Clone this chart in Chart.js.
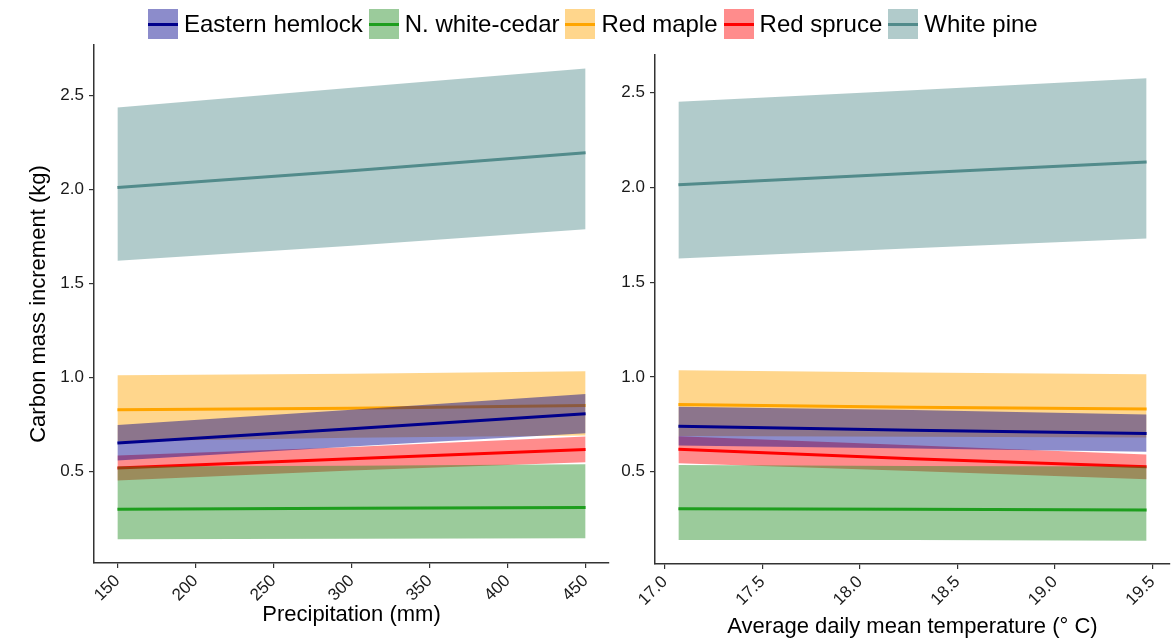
<!DOCTYPE html>
<html>
<head>
<meta charset="utf-8">
<script src="https://cdn.jsdelivr.net/npm/chart.js@4.4.0/dist/chart.umd.min.js"></script>
<style>
html,body{margin:0;padding:0;background:#fff;width:1173px;height:640px;overflow:hidden;font-family:"Liberation Sans",Arial,sans-serif;}
#legend{position:absolute;top:9px;left:148px;height:30px;display:flex;align-items:center;white-space:nowrap;}
.item{display:flex;align-items:center;margin-right:6px;}
.sw{position:relative;width:30px;height:30px;margin-right:6px;}
.sw .ln{position:absolute;left:0;right:0;top:13.5px;height:3px;}
.lab{font-size:24px;color:#000;line-height:30px;}
#w1{position:absolute;left:0;top:0;width:620px;height:640px;}
#w2{position:absolute;left:595px;top:0;width:578px;height:640px;}
</style>
</head>
<body>
<div id="w1"><canvas id="c1" width="620" height="640"></canvas></div>
<div id="w2"><canvas id="c2" width="578" height="640"></canvas></div>
<div id="legend"></div>
<script>
// ---- categories / ticks ----
const species = ['Eastern hemlock', 'N. white-cedar', 'Red maple', 'Red spruce', 'White pine'];
const precipX = [150, 300, 450];
const tempX = [17.07, 18.27, 19.47];
const yTicks = [0.5, 1.0, 1.5, 2.0, 2.5];
const precipTicks = [150, 200, 250, 300, 350, 400, 450];
const tempTicks = [17.0, 17.5, 18.0, 18.5, 19.0, 19.5];

// ---- precipitation panel (fit, lower, upper) ----
const hemlockPrecipFit = [0.652, 0.727, 0.807];
const hemlockPrecipLow = [0.558, 0.633, 0.704];
const hemlockPrecipHigh = [0.747, 0.828, 0.913];
const cedarPrecipFit = [0.299, 0.305, 0.309];
const cedarPrecipLow = [0.140, 0.142, 0.145];
const cedarPrecipHigh = [0.527, 0.530, 0.539];
const maplePrecipFit = [0.829, 0.837, 0.851];
const maplePrecipLow = [0.661, 0.679, 0.691];
const maplePrecipHigh = [1.012, 1.020, 1.033];
const sprucePrecipFit = [0.518, 0.568, 0.617];
const sprucePrecipLow = [0.452, 0.505, 0.549];
const sprucePrecipHigh = [0.585, 0.630, 0.686];
const pinePrecipFit = [2.011, 2.101, 2.197];
const pinePrecipLow = [1.622, 1.702, 1.789];
const pinePrecipHigh = [2.438, 2.543, 2.645];

// ---- temperature panel (fit, lower, upper) ----
const hemlockTempFit = [0.740, 0.719, 0.702];
const hemlockTempLow = [0.638, 0.622, 0.605];
const hemlockTempHigh = [0.842, 0.825, 0.802];
const cedarTempFit = [0.304, 0.302, 0.298];
const cedarTempLow = [0.140, 0.140, 0.135];
const cedarTempHigh = [0.535, 0.530, 0.527];
const mapleTempFit = [0.854, 0.840, 0.830];
const mapleTempLow = [0.688, 0.684, 0.680];
const mapleTempHigh = [1.035, 1.023, 1.014];
const spruceTempFit = [0.618, 0.568, 0.526];
const spruceTempLow = [0.544, 0.503, 0.460];
const spruceTempHigh = [0.687, 0.640, 0.591];
const pineTempFit = [2.014, 2.074, 2.134];
const pineTempLow = [1.624, 1.678, 1.730];
const pineTempHigh = [2.451, 2.512, 2.576];

// ---- styles ----
const lineColors = ['#00008B', '#1E9E1E', '#FFA500', '#FF0000', '#528B8B'];
const fillColors = ['rgba(0,0,139,0.45)', 'rgba(34,139,34,0.45)', 'rgba(255,165,0,0.45)', 'rgba(255,0,0,0.45)', 'rgba(82,139,139,0.45)'];
const FONT = '"Liberation Sans", Arial, sans-serif';

const precipSeries = [
  [hemlockPrecipFit, hemlockPrecipLow, hemlockPrecipHigh],
  [cedarPrecipFit, cedarPrecipLow, cedarPrecipHigh],
  [maplePrecipFit, maplePrecipLow, maplePrecipHigh],
  [sprucePrecipFit, sprucePrecipLow, sprucePrecipHigh],
  [pinePrecipFit, pinePrecipLow, pinePrecipHigh]
];
const tempSeries = [
  [hemlockTempFit, hemlockTempLow, hemlockTempHigh],
  [cedarTempFit, cedarTempLow, cedarTempHigh],
  [mapleTempFit, mapleTempLow, mapleTempHigh],
  [spruceTempFit, spruceTempLow, spruceTempHigh],
  [pineTempFit, pineTempLow, pineTempHigh]
];

function makeDatasets(xs, series) {
  const ds = [];
  series.forEach((s, g) => {
    const pts = arr => xs.map((x, i) => ({x: x, y: arr[i]}));
    const base = g * 10;
    ds.push({label: species[g] + ' upper', data: pts(s[2]), borderWidth: 0, borderColor: 'transparent',
      pointRadius: 0, fill: '+1', backgroundColor: fillColors[g], order: base + 2});
    ds.push({label: species[g] + ' lower', data: pts(s[1]), borderWidth: 0, borderColor: 'transparent',
      pointRadius: 0, fill: false, order: base + 1});
    ds.push({label: species[g], data: pts(s[0]), borderWidth: 3, borderColor: lineColors[g],
      pointRadius: 0, fill: false, order: base, borderCapStyle: 'butt'});
  });
  return ds;
}

function axisCommon() {
  return {
    grid: {display: true, drawOnChartArea: false, drawTicks: true, tickLength: 5, color: '#333', lineWidth: 1.2},
    border: {display: true, color: '#333', width: 1.5}
  };
}

function makeChart(id, xs, series, opt) {
  const xc = axisCommon(), yc = axisCommon();
  return new Chart(document.getElementById(id), {
    type: 'line',
    data: {datasets: makeDatasets(xs, series)},
    options: {
      responsive: false,
      animation: false,
      events: [],
      layout: {padding: {left: 0, top: opt.top, right: opt.right, bottom: 0}},
      plugins: {legend: {display: false}, tooltip: {enabled: false}, filler: {drawTime: 'beforeDatasetDraw'}},
      scales: {
        x: Object.assign(xc, {
          type: 'linear', min: opt.xmin, max: opt.xmax,
          afterBuildTicks: s => { s.ticks = opt.xticks.map(v => ({value: v})); },
          ticks: {autoSkip: false, minRotation: 45, maxRotation: 45, padding: 3, color: '#1a1a1a',
            font: {family: FONT, size: 17}, callback: opt.xfmt},
          title: {display: true, text: opt.xtitle, color: '#000', font: {family: FONT, size: 22},
            padding: {top: 0, bottom: opt.xtitlePad}},
          afterFit: s => { s.height = opt.xh; s.paddingLeft = 0; s.paddingRight = 0; }
        }),
        y: Object.assign(yc, {
          type: 'linear', min: opt.ymin, max: opt.ymax,
          afterBuildTicks: s => { s.ticks = yTicks.map(v => ({value: v})); },
          ticks: {autoSkip: false, padding: 5, color: '#1a1a1a', font: {family: FONT, size: 17},
            callback: v => Number(v).toFixed(1)},
          title: {display: !!opt.ytitle, text: opt.ytitle || '', color: '#000', font: {family: FONT, size: 22},
            padding: {top: 26, bottom: 0}},
          afterFit: s => { s.width = opt.yw; s.paddingTop = 0; s.paddingBottom = 0; }
        })
      }
    }
  });
}

makeChart('c1', precipX, precipSeries, {
  top: 45, right: 11, xh: 77, yw: 94,
  xmin: 135, xmax: 465, ymin: 0.013, ymax: 2.770,
  xticks: precipTicks, xfmt: v => String(v),
  xtitle: 'Precipitation (mm)', xtitlePad: 12,
  ytitle: 'Carbon mass increment (kg)'
});
makeChart('c2', tempX, tempSeries, {
  top: 55, right: 3, xh: 76, yw: 60,
  xmin: 16.95, xmax: 19.59, ymin: 0.013, ymax: 2.698,
  xticks: tempTicks, xfmt: v => Number(v).toFixed(1),
  xtitle: 'Average daily mean temperature (° C)', xtitlePad: 0,
  ytitle: ''
});

// ---- legend (HTML, built from the series names and colours) ----
const legend = document.getElementById('legend');
species.forEach((name, i) => {
  const item = document.createElement('div'); item.className = 'item';
  const sw = document.createElement('div'); sw.className = 'sw'; sw.style.background = fillColors[i];
  const ln = document.createElement('div'); ln.className = 'ln'; ln.style.background = lineColors[i];
  sw.appendChild(ln);
  const lab = document.createElement('span'); lab.className = 'lab'; lab.textContent = name;
  item.appendChild(sw); item.appendChild(lab);
  legend.appendChild(item);
});
</script>
</body>
</html>
